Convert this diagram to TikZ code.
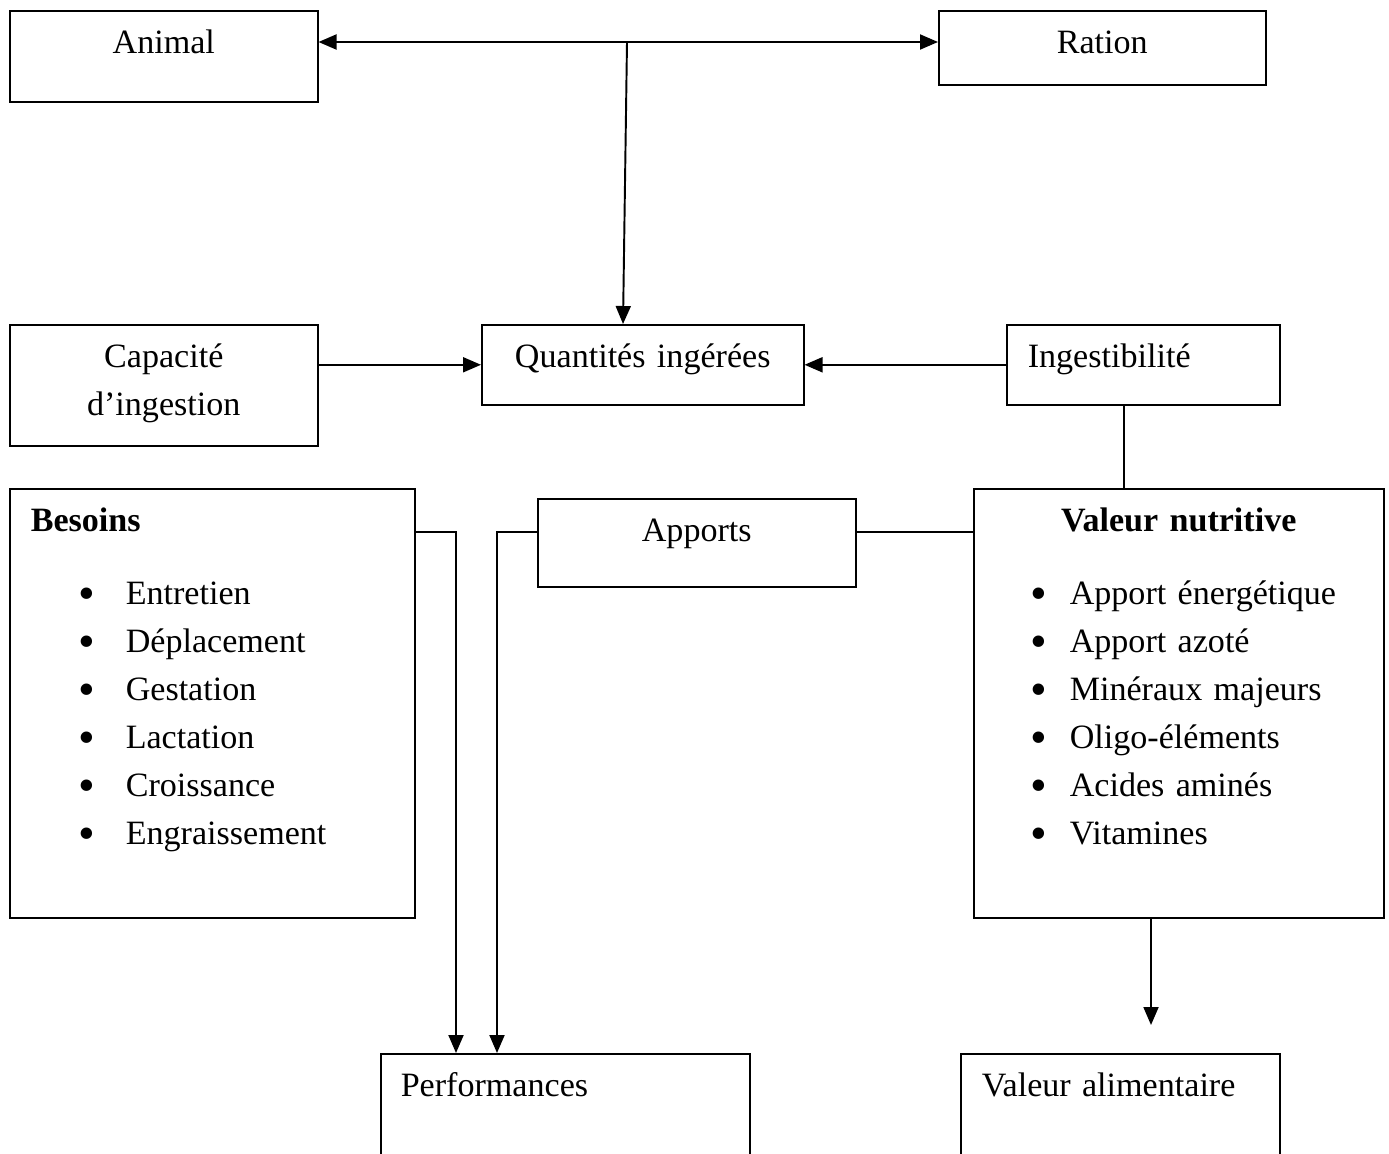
\documentclass[tikz,border=0pt]{standalone}
\usepackage{fontspec}
\setmainfont{Liberation Serif}
\usepackage{tikz}
\usetikzlibrary{arrows.meta}
\newcommand{\mainsize}{\fontsize{19.4pt}{0.96cm}\selectfont}
\newcommand{\bigbullet}{\raisebox{-0.13em}{\scalebox{1.4}{\textbullet}}}
\newcommand{\puceB}{\makebox[1.9cm][l]{\hspace*{0.88cm}\makebox[0.48cm]{\bigbullet}}}
\newcommand{\puceV}{\makebox[1.5cm][l]{\hspace*{0.64cm}\makebox[0.48cm]{\bigbullet}}}
\tikzset{
  >={Triangle[length=3.6mm,width=3mm]},
  flow/.style={->,line width=1.1pt},
  twoway/.style={<->,line width=1.1pt},
  link/.style={line width=1.1pt},
  box/.style={draw,line width=0.9pt,anchor=north west,inner sep=0pt,
    text height=0.86cm,align=center,font=\mainsize},
  leftbox/.style={box,align=left,inner xsep=0.42cm}
}
\begin{document}
\begin{tikzpicture}[x=0.02cm,y=-0.02cm]
  \clip (0,0) rectangle (1389,1153);
  % boxes
  \node[box,text width=6.16cm,text depth=0.96cm] (animal) at (9,10) {Animal};
  \node[box,text width=6.54cm,text depth=0.62cm] (ration) at (938,10) {Ration};
  \node[box,text width=6.16cm,text depth=1.56cm] (capacite) at (9,324) {Capacité\\d’ingestion};
  \node[box,text width=6.44cm,text depth=0.74cm] (quant) at (481,324) {Quantités ingérées};
  \node[leftbox,text width=4.62cm,text depth=0.74cm] (ingest) at (1006,324) {Ingestibilité};
  \node[box,text width=6.36cm,text depth=0.9cm] (apports) at (537,498) {Apports};
  \node[leftbox,text width=7.26cm,text depth=7.72cm] (besoins) at (9,488) {%
    \textbf{Besoins}\\[0.5cm]
    \puceB Entretien\\
    \puceB Déplacement\\
    \puceB Gestation\\
    \puceB Lactation\\
    \puceB Croissance\\
    \puceB Engraissement};
  \node[leftbox,text width=7.36cm,text depth=7.72cm] (valnut) at (973,488) {%
    \makebox[\linewidth]{\textbf{Valeur nutritive}}\\[0.5cm]
    \puceV Apport énergétique\\
    \puceV Apport azoté\\
    \puceV Minéraux majeurs\\
    \puceV Oligo-éléments\\
    \puceV Acides aminés\\
    \puceV Vitamines};
  \node[leftbox,inner xsep=0.4cm,text width=6.58cm,text depth=2cm] (perf) at (380,1053) {Performances};
  \node[leftbox,text width=5.54cm,text depth=2cm] (valalim) at (960,1053) {Valeur alimentaire};

  % connectors
  \coordinate (junc) at (627,42);
  \coordinate (rail) at (690,532);
  \coordinate (bend1) at (456,532);
  \coordinate (bend2) at (497,532);
  \coordinate (valend) at (1151,1025);
  \draw[twoway] (animal.east |- junc) -- (ration.west |- junc);
  \draw[flow] (junc) -- ([xshift=-0.08cm]junc |- quant.north);
  \draw[flow] (capacite.east |- quant.west) -- (quant.west);
  \draw[flow] (ingest.west) -- (quant.east);
  \draw[link] ([xshift=-0.39cm]ingest.south) -- ([xshift=-0.39cm]ingest.south |- valnut.north);
  \draw[link] (apports.east |- rail) -- (valnut.west |- rail);
  \draw[flow] (besoins.east |- rail) -- (bend1) -- (bend1 |- perf.north);
  \draw[flow] (apports.west |- rail) -- (bend2) -- (bend2 |- perf.north);
  \draw[flow] (valend |- valnut.south) -- (valend);
\end{tikzpicture}
\end{document}
